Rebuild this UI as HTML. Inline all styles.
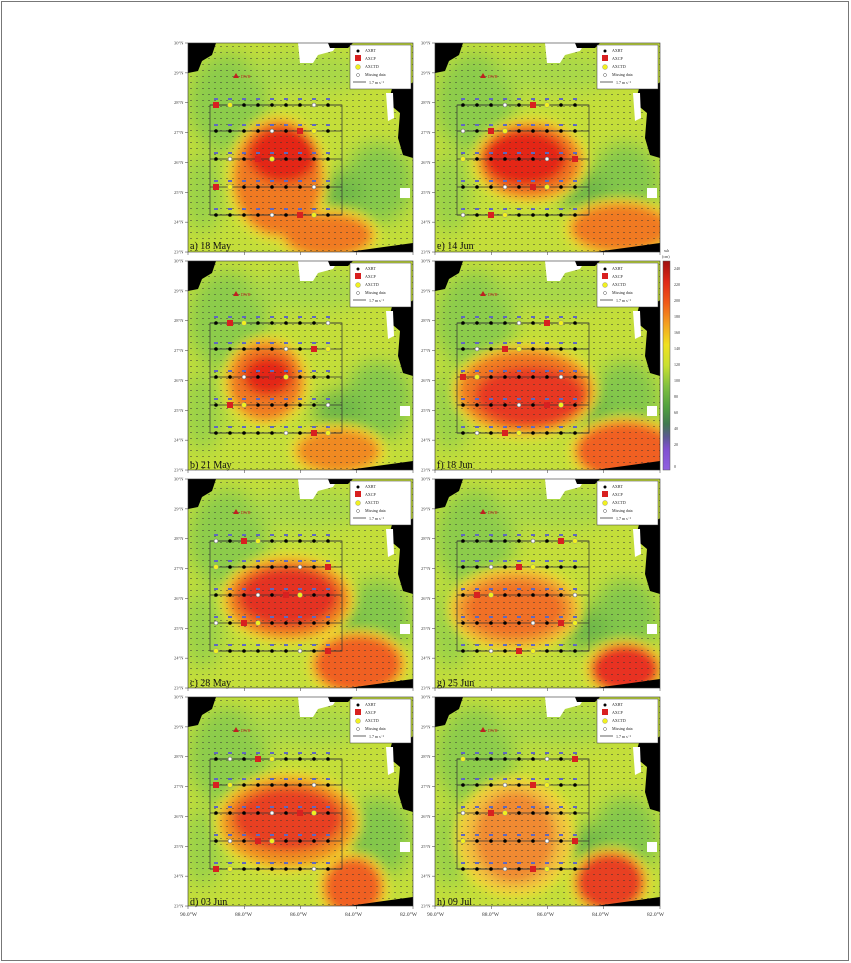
<!DOCTYPE html>
<html><head><meta charset="utf-8"><style>html,body{margin:0;padding:0;background:#fff}svg{display:block}text{font-family:"Liberation Serif",serif}</style></head>
<body>
<svg id="s" width="851" height="963" viewBox="0 0 851 963" xmlns="http://www.w3.org/2000/svg">
<defs>
<filter id="bl" x="-50%" y="-50%" width="200%" height="200%"><feGaussianBlur stdDeviation="9"/></filter>
<filter id="bl2" x="-50%" y="-50%" width="200%" height="200%"><feGaussianBlur stdDeviation="5"/></filter>
<pattern id="dots" width="6" height="6" patternUnits="userSpaceOnUse"><rect x="2" y="3" width="2" height="0.8" fill="#333" opacity="0.6"/></pattern>
<clipPath id="cp"><rect width="225" height="209"/></clipPath>
<linearGradient id="cb" x1="0" y1="0" x2="0" y2="1">
<stop offset="0" stop-color="#a01010"/><stop offset="0.1" stop-color="#e02818"/><stop offset="0.2" stop-color="#f05a18"/><stop offset="0.3" stop-color="#f4a020"/><stop offset="0.4" stop-color="#f0e020"/><stop offset="0.5" stop-color="#c8e030"/><stop offset="0.6" stop-color="#80c040"/><stop offset="0.7" stop-color="#50a040"/><stop offset="0.78" stop-color="#407850"/><stop offset="0.84" stop-color="#5a5a90"/><stop offset="0.9" stop-color="#8050d0"/><stop offset="1" stop-color="#9060e0"/>
</linearGradient>
</defs>
<rect x="1.5" y="1.5" width="847" height="959" fill="#fff" stroke="#777" stroke-width="1"/>
<g id="panels"></g>
<rect x="663" y="261" width="7" height="209" fill="url(#cb)" stroke="#555" stroke-width="0.5"/>
<g font-size="4" fill="#333">
<text x="664" y="252">ssh</text><text x="662" y="258">(cm)</text>
<text x="674" y="270">240</text><text x="674" y="286">220</text><text x="674" y="302">200</text><text x="674" y="318">180</text><text x="674" y="334">160</text><text x="674" y="350">140</text><text x="674" y="366">120</text><text x="674" y="382">100</text><text x="674" y="398">80</text><text x="674" y="414">60</text><text x="674" y="430">40</text><text x="674" y="446">20</text><text x="674" y="468">0</text>
</g>
<g font-size="5.5" fill="#333">
<text x="180" y="916">90.0°W</text><text x="235" y="916">88.0°W</text><text x="290" y="916">86.0°W</text><text x="345" y="916">84.0°W</text><text x="400" y="916">82.0°W</text>
<text x="427" y="916">90.0°W</text><text x="482" y="916">88.0°W</text><text x="537" y="916">86.0°W</text><text x="592" y="916">84.0°W</text><text x="647" y="916">82.0°W</text>
</g>
<g font-size="10" fill="#111">
<text x="190" y="249">a) 18 May</text><text x="437" y="249">e) 14 Jun</text>
<text x="190" y="468">b) 21 May</text><text x="437" y="468">f) 18 Jun</text>
<text x="190" y="686">c) 28 May</text><text x="437" y="686">g) 25 Jun</text>
<text x="190" y="905">d) 03 Jun</text><text x="437" y="905">h) 09 Jul</text>
</g>
</svg>
<script>
var NS="http://www.w3.org/2000/svg";
function el(t,a,p){var e=document.createElementNS(NS,t);for(var k in a)e.setAttribute(k,a[k]);p.appendChild(e);return e;}
var P=[
 [188,43,[[95,112,35,28,'#e42818'],[90,135,45,58,'#f07a20'],[140,192,45,22,'#f07a20']]],
 [435,43,[[90,115,42,28,'#e42818'],[95,118,52,38,'#f07a20'],[185,185,50,25,'#f07a20']]],
 [188,261,[[80,115,25,20,'#e42818'],[78,120,38,40,'#f07a20'],[150,190,42,22,'#f08a20']]],
 [435,261,[[95,135,55,30,'#e83820'],[90,130,68,42,'#f07a20'],[190,190,50,30,'#f06020']]],
 [188,479,[[100,118,50,30,'#e43020'],[100,120,62,40,'#f08020'],[170,185,45,30,'#f06020']]],
 [435,479,[[80,130,50,28,'#f07028'],[80,130,62,38,'#f0a030'],[190,190,35,25,'#e83020']]],
 [188,697,[[100,122,55,32,'#e84020'],[100,125,68,45,'#f09020'],[165,190,30,30,'#f06020']]],
 [435,697,[[80,140,40,45,'#f08a30'],[80,140,55,55,'#f0c040'],[175,185,35,30,'#e84020']]]
];
var g=document.getElementById('panels');
P.forEach(function(p,i){
 var G=el('g',{transform:'translate('+p[0]+','+p[1]+')'},g);
 var C=el('g',{'clip-path':'url(#cp)'},G);
 el('rect',{width:225,height:209,fill:'#c4de3a'},C);
 var B=el('g',{filter:'url(#bl)'},C);
 el('ellipse',{cx:40,cy:60,rx:40,ry:50,fill:'#8ccc4c'},B);
 el('ellipse',{cx:190,cy:140,rx:35,ry:40,fill:'#84c84c'},B);
 el('ellipse',{cx:120,cy:30,rx:60,ry:20,fill:'#a8d848'},B);
 el('ellipse',{cx:150,cy:150,rx:25,ry:20,fill:'#70b848'},B);
 el('ellipse',{cx:15,cy:150,rx:20,ry:40,fill:'#9ad24a'},B);
 var R=el('g',{filter:'url(#bl2)'},C);
 p[2].slice().sort(function(a,b){return b[2]*b[3]-a[2]*a[3]}).forEach(function(b){
  el('ellipse',{cx:b[0],cy:b[1],rx:b[2]+6,ry:b[3]+6,fill:'#f0e030'},R);});
 el('ellipse',{cx:p[2][1][0],cy:p[2][1][1],rx:p[2][1][2],ry:p[2][1][3],fill:p[2][1][4]},R);
 el('ellipse',{cx:p[2][2][0],cy:p[2][2][1],rx:p[2][2][2],ry:p[2][2][3],fill:p[2][2][4]},R);
 el('ellipse',{cx:p[2][0][0],cy:p[2][0][1],rx:p[2][0][2],ry:p[2][0][3],fill:p[2][0][4]},R);
 el('rect',{width:225,height:209,fill:'url(#dots)'},C);
 el('polygon',{points:'0,0 28,0 24,12 14,18 10,28 0,30',fill:'#000'},C);
 el('polygon',{points:'110,0 150,0 145,8 130,12 125,20 112,20',fill:'#fff'},C);
 el('polygon',{points:'140,0 165,0 160,5 142,5',fill:'#000'},C);
 el('polygon',{points:'205,42 225,40 225,115 215,112 210,95 212,70 200,60',fill:'#000'},C);
 el('polygon',{points:'198,50 205,50 206,75 200,78',fill:'#fff'},C);
 el('rect',{x:212,y:145,width:10,height:10,fill:'#fff'},C);
 el('polygon',{points:'160,209 225,200 225,209',fill:'#000'},C);
 var rows=[62,88,116,144,172], xs=[];
 for(var x=28;x<=150;x+=14)xs.push(x);
 var L=el('g',{stroke:'#333','stroke-width':0.7,fill:'none'},C);
 el('rect',{x:22,y:62,width:132,height:110},L);
 rows.forEach(function(y){el('line',{x1:22,y1:y,x2:154,y2:y},L);});
 rows.forEach(function(y,ri){xs.forEach(function(x,xi){
  var k=(xi*7+ri*3+i)%9;
  if(k==0)el('rect',{x:x-3,y:y-3,width:6,height:6,fill:'#d82020'},C);
  else if(k==4)el('circle',{cx:x,cy:y,r:2,fill:'#fff',stroke:'#555','stroke-width':0.5},C);
  else if(k==7)el('circle',{cx:x,cy:y,r:2.5,fill:'#f0f020',stroke:'#888','stroke-width':0.4},C);
  else el('circle',{cx:x,cy:y,r:1.8,fill:'#000'},C);
  el('rect',{x:x-2,y:y-7,width:4,height:2,fill:'#6068c0'},C);
 });});
 el('polygon',{points:'45,35 48,30 51,35',fill:'#c02020'},C);
 el('rect',{x:162,y:2,width:61,height:44,fill:'#fff',stroke:'#333','stroke-width':0.5},C);
 el('circle',{cx:170,cy:8,r:1.5,fill:'#000'},C);
 el('rect',{x:167,y:12,width:6,height:6,fill:'#d82020'},C);
 el('circle',{cx:170,cy:24,r:2.5,fill:'#f0f020',stroke:'#888','stroke-width':0.4},C);
 el('circle',{cx:170,cy:32,r:1.5,fill:'#fff',stroke:'#555','stroke-width':0.5},C);
 el('line',{x1:165,y1:39,x2:178,y2:39,stroke:'#000','stroke-width':0.6},C);
 var T=el('g',{'font-size':4,fill:'#222'},C);
 [['AXBT',9],['AXCP',17],['AXCTD',25],['Missing data',33],['1.7 m s⁻¹',41]].forEach(function(t){var e=el('text',{x:t[0][0]=='1'?181:177,y:t[1]},T);e.textContent=t[0];});
 var e=el('text',{x:53,y:35,'font-size':4,fill:'#c02020'},C);e.textContent='DWH';
 el('rect',{width:225,height:209,fill:'none',stroke:'#333','stroke-width':0.6},G);
 for(var t=0;t<=7;t++){el('line',{x1:-3,y1:t*29.86,x2:0,y2:t*29.86,stroke:'#333','stroke-width':0.5},G);
  var yl=el('text',{x:-14,y:t*29.86+1.5,'font-size':4.5,fill:'#444'},G);yl.textContent=(30-t)+'°N';}
 for(var t=0;t<=4;t++)el('line',{x1:t*56.25,y1:209,x2:t*56.25,y2:212,stroke:'#333','stroke-width':0.5},G);
});
</script>
</body></html>
